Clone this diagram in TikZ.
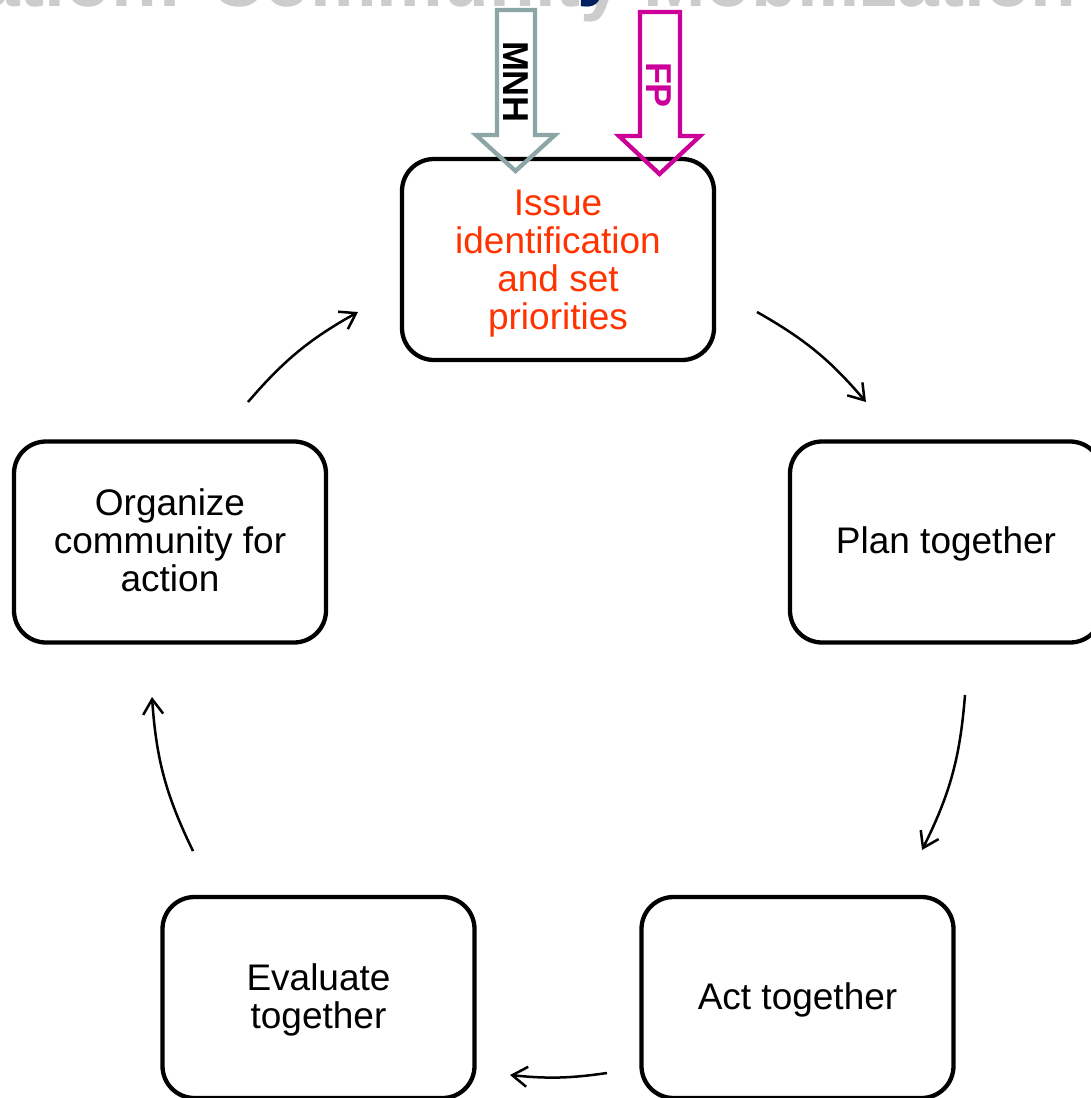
\documentclass[tikz,border=0pt]{standalone}
\usepackage{fontspec}
\setmainfont{Liberation Sans}
\usetikzlibrary{arrows.meta}
\definecolor{issuecol}{HTML}{FF3300}
\definecolor{mnhcol}{HTML}{8CA5A6}
\definecolor{fpcol}{HTML}{CC0099}
\definecolor{titlecol}{HTML}{002060}
\definecolor{shadowcol}{HTML}{CCCCCC}
\tikzset{
  stepbox/.style={draw=black, line width=4.3pt, rounded corners=32pt, fill=white,
    minimum width=312pt, minimum height=201pt, inner sep=0pt},
  steptext/.style={align=center, inner sep=0pt, font=\fontsize{37}{38}\selectfont},
  cyclearrow/.style={line width=2.5pt, -{Straight Barb[length=15pt,width=20pt]}},
  blockarrow/.style={line width=4.3pt, line join=miter},
  blocklabel/.style={font=\bfseries\fontsize{36}{36}\selectfont, rotate=-90, inner sep=0pt},
  titletext/.style={font=\bfseries\fontsize{75}{80}\selectfont, inner sep=0pt, anchor=base west}
}
\begin{document}
\begin{tikzpicture}[x=1pt,y=-1pt]
\useasboundingbox (0,0) rectangle (1091,1098);
\begin{scope}
\clip (0,0) rectangle (1091,1098);
% cut-off title
\node[titletext, text=shadowcol] (titleshadow) at (-22,6) {ation: Community Mobilization};
\node[titletext, text=titlecol] (title) at (-25,-9) {ation: Community Mobilization};
% boxes
\node[stepbox] (issue) at (558,259.5) {};
\node[steptext, text=issuecol] (issuetext) at (558,263.5) {Issue\\identification\\and set\\priorities};
\node[stepbox] (plan) at (946,542) {};
\node[steptext] (plantext) at (946,544) {Plan together};
\node[stepbox] (act) at (797.5,997.5) {};
\node[steptext] (acttext) at (797.5,999.5) {Act together};
\node[stepbox] (eval) at (318.5,997.5) {};
\node[steptext] (evaltext) at (318.5,999.5) {Evaluate\\together};
\node[stepbox] (org) at (170,542) {};
\node[steptext] (orgtext) at (170,540) {Organize\\community for\\action};
% block arrows
\draw[blockarrow, draw=mnhcol] (497,10) -- (535,10) -- (535,135) -- (555,135) -- (515.5,171) -- (476,135) -- (497,135) -- cycle;
\node[blocklabel] (mnh) at (516,82) {MNH};
\draw[blockarrow, draw=fpcol] (640,12) -- (680,12) -- (680,136) -- (700,136) -- (659.5,174) -- (619,136) -- (640,136) -- cycle;
\node[blocklabel, text=fpcol] (fp) at (658.5,85) {FP};
% cycle arrows
\coordinate (a1s) at (757,312); \coordinate (a1e) at (866,402);
\coordinate (a2s) at (965,695); \coordinate (a2e) at (922,850);
\coordinate (a3s) at (607,1073); \coordinate (a3e) at (510,1075);
\coordinate (a4s) at (193,851); \coordinate (a4e) at (152,697);
\coordinate (a5s) at (248,402); \coordinate (a5e) at (358,312);
\draw[cyclearrow] (a1s) to[bend left=10] (a1e);
\draw[cyclearrow] (a2s) to[bend left=11] (a2e);
\draw[cyclearrow] (a3s) to[bend left=7] (a3e);
\draw[cyclearrow] (a4s) to[bend left=11] (a4e);
\draw[cyclearrow] (a5s) to[bend left=10] (a5e);
\end{scope}
\end{tikzpicture}
\end{document}
